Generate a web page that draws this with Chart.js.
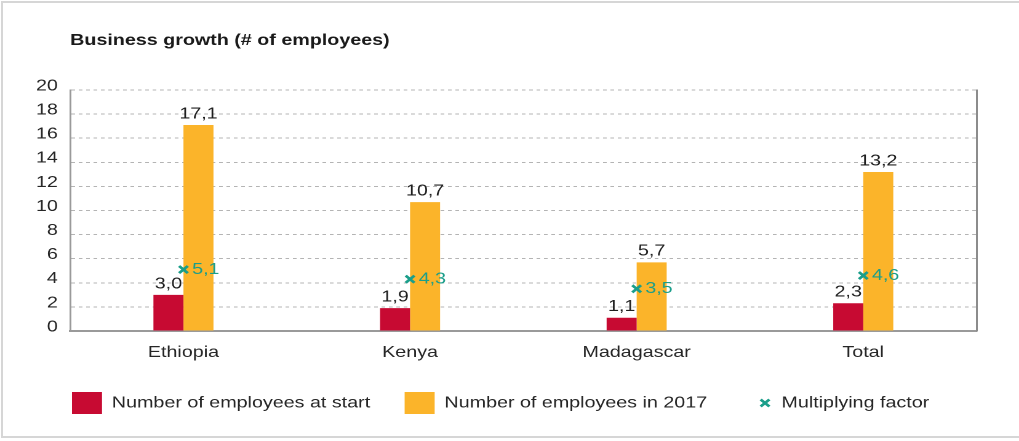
<!DOCTYPE html>
<html>
<head>
<meta charset="utf-8">
<title>Business growth</title>
<script src="https://cdn.jsdelivr.net/npm/chart.js@4.4.1/dist/chart.umd.min.js"></script>
<style>
  html, body { margin: 0; padding: 0; background: #fff; overflow: hidden; }
  #frame {
    position: absolute; left: 1px; top: 1px; width: 1100px; height: 437px;
    box-sizing: border-box; border: 2px solid #d6d6d6;
  }
  #growthChart { position: absolute; left: 0; top: 0; }
</style>
</head>
<body>
<div id="frame"></div>
<canvas id="growthChart" width="828" height="441" style="width:1019px;height:441px"></canvas>
<script>
// Countries
var countries = ["Ethiopia", "Kenya", "Madagascar", "Total"];

// Employees per business
var atStart = [3.0, 1.9, 1.1, 2.3];
var in2017 = [17.1, 10.7, 5.7, 13.2];
var factor = [5.1, 4.3, 3.5, 4.6];

// Y axis ticks
var yMin = 0;
var yMax = 20;
var yStep = 2;

var red = "#c70a32";
var yellow = "#fbb42a";
var teal = "#1a9e8a";
var fontFamily = '"Liberation Sans", Arial, Helvetica, sans-serif';

Chart.defaults.font.family = fontFamily;
Chart.defaults.color = "#262626";

function comma(v) {
    return v.toFixed(1).replace(".", ",");
}

// Title over the plot area
var titlePlugin = {
    id: "leftTitle",
    afterDraw: function (chart) {
        var ctx = chart.ctx;
        ctx.save();
        ctx.font = "bold 16px " + fontFamily;
        ctx.fillStyle = "#1a1a1a";
        ctx.textAlign = "left";
        ctx.textBaseline = "alphabetic";
        ctx.fillText("Business growth (# of employees)", chart.chartArea.left, 45);
        ctx.restore();
    }
};

// Legend starts under the plot area instead of the canvas edge
var legendShift = {
    id: "legendShift",
    afterLayout: function (chart) {
        var dx = chart.chartArea.left - 26.5;
        chart.legend.left += dx;
        chart.legend.right += dx;
    }
};

// Value labels on bars and factor points
var valuePlugin = {
    id: "valueLabels",
    afterDatasetsDraw: function (chart) {
        var ctx = chart.ctx;
        ctx.save();
        ctx.font = "16px " + fontFamily;
        chart.data.datasets.forEach(function (ds, i) {
            var meta = chart.getDatasetMeta(i);
            meta.data.forEach(function (el, j) {
                var v = ds.data[j];
                if (ds.type === "line") {
                    ctx.fillStyle = teal;
                    ctx.textAlign = "left";
                    ctx.textBaseline = "middle";
                    ctx.fillText(comma(v), el.x + 7, el.y);
                } else {
                    ctx.fillStyle = "#1f1f1f";
                    ctx.textAlign = "center";
                    ctx.textBaseline = "bottom";
                    ctx.fillText(comma(v), el.x, el.y - 3);
                }
            });
        });
        ctx.restore();
    }
};

// Cross marker for the factor entry in the legend
var legendCross = {
    id: "legendCross",
    afterDraw: function (chart) {
        var legend = chart.legend;
        if (!legend || !legend.legendItems) return;
        var ctx = chart.ctx;
        legend.legendItems.forEach(function (item, i) {
            if (item.datasetIndex !== 2) return;
            var hb = legend.legendHitBoxes[i];
            ctx.save();
            ctx.strokeStyle = teal;
            ctx.fillStyle = teal;
            ctx.lineWidth = 2.5;
            Chart.helpers.drawPoint(ctx, { pointStyle: "crossRot", radius: 5, borderWidth: 2.5, rotation: 0 },
                hb.left + 19, hb.top + hb.height / 2);
            ctx.restore();
        });
    }
};

var ctx = document.getElementById("growthChart");

var growthChart = new Chart(ctx, {
    type: "bar",
    data: {
        labels: countries,
        datasets: [
            {
                label: "Number of employees at start",
                data: atStart,
                backgroundColor: red,
                borderWidth: 0,
                order: 1
            },
            {
                label: "Number of employees in 2017",
                data: in2017,
                backgroundColor: yellow,
                borderWidth: 0,
                order: 1
            },
            {
                type: "line",
                label: "Multiplying factor",
                data: factor,
                showLine: false,
                pointStyle: "crossRot",
                pointRadius: 5,
                pointBorderWidth: 2.5,
                borderColor: teal,
                backgroundColor: teal,
                order: 0
            }
        ]
    },
    options: {
        responsive: false,
        devicePixelRatio: 2,
        animation: false,
        events: [],
        layout: {
            padding: { left: 0, right: 34.5, top: 90, bottom: 17 }
        },
        datasets: {
            bar: { barPercentage: 1, categoryPercentage: 0.265 }
        },
        scales: {
            x: {
                grid: { display: false, drawTicks: false },
                border: { display: true, color: "#9a9a9a", width: 2 },
                ticks: { font: { size: 16 }, padding: 12, color: "#262626" },
                afterFit: function (scale) { scale.height = 33; }
            },
            y: {
                min: yMin,
                max: yMax,
                ticks: {
                    stepSize: yStep,
                    font: { size: 16 },
                    padding: 10,
                    labelOffset: -4,
                    color: "#262626"
                },
                grid: { color: "#b4b4b4", lineWidth: 1, drawTicks: false },
                border: { display: true, color: "#9a9a9a", width: 1.5, dash: [3, 3], dashOffset: 0 },
                afterFit: function (scale) { scale.width = 57; }
            },
            y2: {
                position: "right",
                min: yMin,
                max: yMax,
                ticks: { display: false },
                grid: { display: false, drawTicks: false },
                border: { display: true, color: "#8c8c8c", width: 1.5 },
                afterFit: function (scale) { scale.width = 0; }
            }
        },
        plugins: {
            title: { display: false },
            tooltip: { enabled: false },
            legend: {
                position: "bottom",
                align: "start",
                labels: {
                    boxWidth: 24.4,
                    boxHeight: 22,
                    padding: 28,
                    color: "#262626",
                    font: { size: 16 },
                    sort: function (a, b) { return a.datasetIndex - b.datasetIndex; },
                    generateLabels: function (chart) {
                        var items = Chart.defaults.plugins.legend.labels.generateLabels(chart);
                        items.forEach(function (it) {
                            if (it.datasetIndex === 2) {
                                it.fillStyle = "rgba(0,0,0,0)";
                                it.strokeStyle = "rgba(0,0,0,0)";
                                it.lineWidth = 0;
                            }
                        });
                        return items;
                    }
                }
            }
        }
    },
    plugins: [legendShift, titlePlugin, valuePlugin, legendCross]
});
</script>
</body>
</html>
